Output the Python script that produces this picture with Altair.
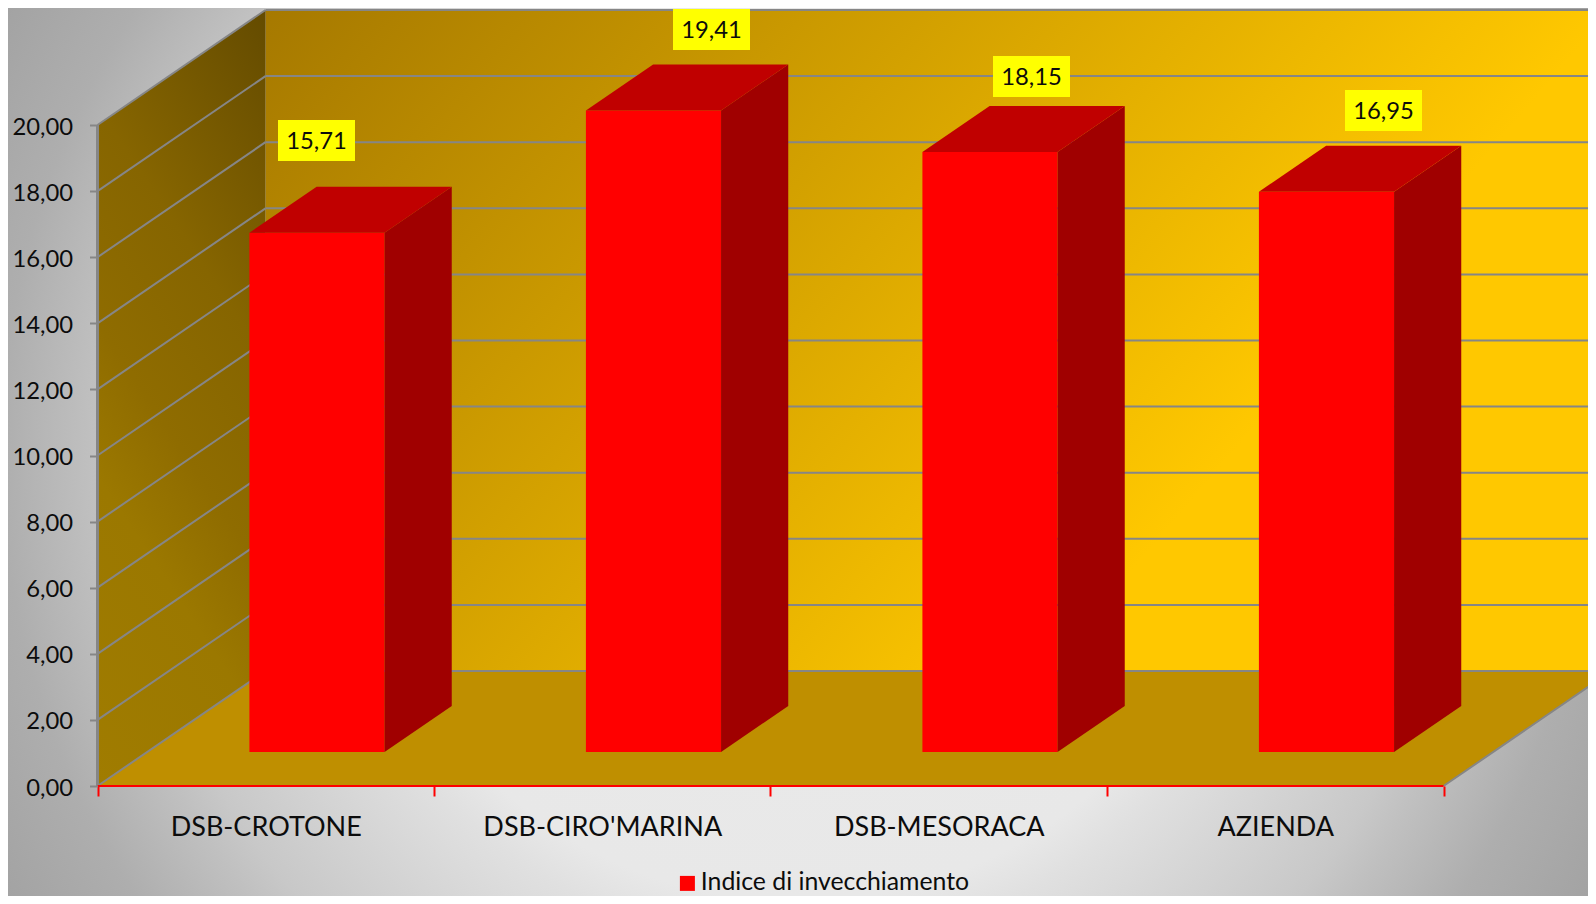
import altair as alt
import pandas as pd

# ---- chart values ----
categories = ["DSB-CROTONE", "DSB-CIRO'MARINA", "DSB-MESORACA", "AZIENDA"]
values = [15.71, 19.41, 18.15, 16.95]
series_name = "Indice di invecchiamento"
y_ticks = [0, 2, 4, 6, 8, 10, 12, 14, 16, 18, 20]

# ---- layout of the oblique projection (pixels in the 1596x904 page) ----
PAGE_W, PAGE_H, MARGIN = 1596, 904, 8
W, H = PAGE_W - 2 * MARGIN, PAGE_H - 2 * MARGIN
RIGHT, BOTTOM = MARGIN + W, MARGIN + H
ORIGIN_X, ORIGIN_Y = 97.5, 786.0
CAT_PX, VAL_PX = 336.5, 33.05
DEPTH_X, DEPTH_Y = 168.0, 115.0
BAR_FRONT, BAR_DEPTH = 0.296, 0.40          # depth fractions
BAR_HALF = 0.2008                           # half bar width in category units
BAR_SHIFT = 1.5 / CAT_PX                    # bars sit slightly right of the category centre
LABEL_CENTER_PX = [(316.5, 140.5), (711.5, 29.5), (1031.5, 76.5), (1383.5, 110.5)]
LABEL_W, LABEL_H = 77, 41
FONT = "Lato"


def px_x(px):
    return (px - ORIGIN_X) / CAT_PX


def px_y(py):
    return (ORIGIN_Y - py) / VAL_PX


def pr(c, v, d=0.0):
    """Project (category, value, depth) onto the two data axes."""
    return c + d * DEPTH_X / CAT_PX, v + d * DEPTH_Y / VAL_PX


x_scale = alt.Scale(domain=[px_x(MARGIN), px_x(RIGHT)], nice=False, zero=False)
y_scale = alt.Scale(domain=[px_y(BOTTOM), px_y(MARGIN)], nice=False, zero=False)

n = len(categories)
x_axis = alt.Axis(
    orient="bottom", offset=-(BOTTOM - ORIGIN_Y), values=list(range(n + 1)), grid=False, domain=False,
    tickColor="#ff0000", tickWidth=2, tickSize=10, title=None, labelFont=FONT, labelFontSize=27,
    labelColor="#0c0c0c", labelPadding=18, labelOffset=CAT_PX / 2, labelOverlap=False, labelFlush=False,
    labelBound=False, labelLimit=500, labelExpr="(" + str(categories) + ")[datum.value] || ''", zindex=1,
)
y_axis = alt.Axis(
    orient="left", offset=-(ORIGIN_X - MARGIN), values=y_ticks, grid=False, domain=False,
    tickColor="#868686", tickWidth=2, tickSize=8, title=None, labelFont=FONT, labelFontSize=23.8,
    labelColor="#0c0c0c", labelPadding=17, labelOffset=2, labelOverlap=False, labelBound=False,
    labelExpr="replace(format(datum.value, '.2f'), '.', ',')", zindex=1,
)


def X(f="x"):
    return alt.X(f"{f}:Q", scale=x_scale, axis=x_axis)


def Y(f="y"):
    return alt.Y(f"{f}:Q", scale=y_scale, axis=y_axis)


def grad(stops, x1, y1, x2, y2):
    return alt.LinearGradient(
        gradient="linear", x1=x1, y1=y1, x2=x2, y2=y2,
        stops=[alt.GradientStop(color=c, offset=o) for o, c in stops],
    )


# ---- page background ----
background = alt.Chart(pd.DataFrame({"a": [0]})).mark_rect(
    color=alt.RadialGradient(
        gradient="radial", x1=0.5, y1=0.5, x2=0.5, y2=0.5, r1=0, r2=0.58,
        stops=[
            alt.GradientStop(color="#ebebeb", offset=0),
            alt.GradientStop(color="#e8e8e8", offset=0.49),
            alt.GradientStop(color="#e0e0e0", offset=0.54),
            alt.GradientStop(color="#c8c8c8", offset=0.73),
            alt.GradientStop(color="#c0c0c0", offset=0.77),
            alt.GradientStop(color="#aeaeae", offset=0.87),
            alt.GradientStop(color="#a2a2a2", offset=1),
        ],
    )
).encode(x=alt.value(0), x2=alt.value(W), y=alt.value(0), y2=alt.value(H))

# ---- walls and floor ----
x0, v0 = pr(0, 0, 1)
x1, v1 = pr(n, 20, 1)
back_wall = alt.Chart(pd.DataFrame({"x": [x0], "x2": [x1], "y": [v0], "y2": [v1]})).mark_rect(
    color=grad([(0, "#a67900"), (1, "#ffc800")], 0, 0, 0.85, 0.357), clip=True
).encode(x=X(), x2="x2:Q", y=Y(), y2="y2:Q")

lw = []
for d in (0, 1):
    xx, vv = pr(0, 0, d)
    lw.append({"x": xx, "y": vv, "y2": vv + 20})
left_wall = alt.Chart(pd.DataFrame(lw)).mark_area(
    color=grad(
        [(0, "#644b00"), (0.34, "#866500"), (0.55, "#8f6c00"), (0.7, "#9b7800"), (1, "#a07c00")],
        1, 0, 0.611, 1.198,
    )
).encode(x=X(), y=Y(), y2="y2:Q")

fl = []
for d in (0, 1):
    xa, vv = pr(0, 0, d)
    xb, _ = pr(n, 0, d)
    fl.append({"y": vv, "x": xa, "x2": xb})
floor = alt.Chart(pd.DataFrame(fl)).mark_area(color="#bf8f00", orient="horizontal", clip=True).encode(
    y=Y(), x=X(), x2="x2:Q"
)

# ---- grid lines ----
grid_rows = []
for v in y_ticks:
    a = pr(0, v, 0)
    b = pr(0, v, 1)
    c = pr(n, v, 1)
    grid_rows.append({"x": a[0], "y": a[1], "x2": b[0], "y2": b[1]})
    grid_rows.append({"x": b[0], "y": b[1], "x2": c[0], "y2": c[1]})
# floor edges at the right-hand side
a, b = pr(n, 0, 0), pr(n, 0, 1)
grid_rows.append({"x": a[0], "y": a[1], "x2": b[0], "y2": b[1]})
grid = alt.Chart(pd.DataFrame(grid_rows)).mark_rule(color="#868686", strokeWidth=2, clip=True).encode(
    x=X(), y=Y(), x2="x2:Q", y2="y2:Q"
)

value_axis_line = alt.Chart(pd.DataFrame({"x": [0], "y": [0], "y2": [20]})).mark_rule(
    color="#868686", strokeWidth=3
).encode(x=X(), y=Y(), y2="y2:Q")
cat_axis_line = alt.Chart(pd.DataFrame({"x": [0], "x2": [n], "y": [0]})).mark_rule(
    color="#ff0000", strokeWidth=2
).encode(x=X(), x2="x2:Q", y=Y())

# ---- bars ----
front_rows, side_rows, top_rows = [], [], []
for i, (cat, val) in enumerate(zip(categories, values)):
    c_left = i + 0.5 + BAR_SHIFT - BAR_HALF
    c_right = i + 0.5 + BAR_SHIFT + BAR_HALF
    xl, vb = pr(c_left, 0, BAR_FRONT)
    xr, vt = pr(c_right, val, BAR_FRONT)
    front_rows.append({"x": xl, "x2": xr, "y": vb, "y2": vt, "series": series_name, "cat": cat})
    for d in (BAR_FRONT, BAR_FRONT + BAR_DEPTH):
        xs, vs = pr(c_right, 0, d)
        side_rows.append({"x": xs, "y": vs, "y2": vs + val, "cat": cat})
        xa, va = pr(c_left, val, d)
        xb, _ = pr(c_right, val, d)
        top_rows.append({"y": va, "x": xa, "x2": xb, "cat": cat})

bar_front = alt.Chart(pd.DataFrame(front_rows)).mark_rect().encode(
    x=X(), x2="x2:Q", y=Y(), y2="y2:Q",
    color=alt.Color(
        "series:N",
        scale=alt.Scale(domain=[series_name], range=["#ff0000"]),
        legend=alt.Legend(
            orient="none", legendX=675 - MARGIN, legendY=871 - MARGIN, title=None, symbolType="square",
            symbolSize=225, symbolStrokeWidth=0, labelFont=FONT, labelFontSize=24.8, labelColor="#0c0c0c",
            labelOffset=1, labelLimit=500, zindex=1,
        ),
    ),
)
bar_side = alt.Chart(pd.DataFrame(side_rows)).mark_area(color="#a00000").encode(
    x=X(), y=Y(), y2="y2:Q", detail="cat:N"
)
bar_top = alt.Chart(pd.DataFrame(top_rows)).mark_area(color="#c00000", orient="horizontal").encode(
    y=Y(), x=X(), x2="x2:Q", detail="cat:N"
)

# ---- value labels ----
label_rows = []
for val, (cx, cy) in zip(values, LABEL_CENTER_PX):
    label_rows.append({
        "x": px_x(cx - LABEL_W / 2), "x2": px_x(cx + LABEL_W / 2),
        "y": px_y(cy + LABEL_H / 2), "y2": px_y(cy - LABEL_H / 2),
        "xc": px_x(cx), "yc": px_y(cy),
        "text": f"{val:.2f}".replace(".", ","),
    })
label_df = pd.DataFrame(label_rows)
label_box = alt.Chart(label_df).mark_rect(color="#ffff00").encode(
    x=X(), x2="x2:Q", y=Y(), y2="y2:Q"
)
label_text = alt.Chart(label_df).mark_text(
    font=FONT, fontSize=23.8, color="#0c0c0c", align="center", baseline="middle", dy=1.5
).encode(x=X("xc"), y=Y("yc"), text="text:N")

chart = alt.layer(
    background, back_wall, left_wall, floor, grid, value_axis_line, cat_axis_line,
    bar_front, bar_side, bar_top, label_box, label_text,
).properties(
    width=W, height=H, padding=0, autosize=alt.AutoSizeParams(type="none"),
).configure_view(stroke=None)

chart.save("out.html", embed_options={"renderer": "svg", "actions": False})
